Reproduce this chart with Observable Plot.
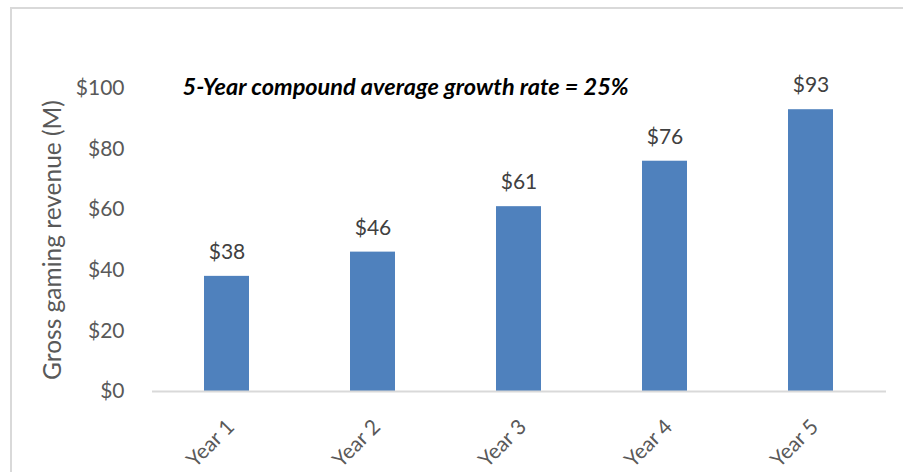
<!DOCTYPE html>
<html>
<head>
<meta charset="utf-8">
<script src="https://cdn.jsdelivr.net/npm/d3@7"></script>
<script src="https://cdn.jsdelivr.net/npm/@observablehq/plot@0.6"></script>
<style>
  html, body { margin: 0; padding: 0; background: #fff; overflow: hidden; }
  #wrap { position: relative; width: 903px; height: 472px; }
  #border { position: absolute; left: 10px; top: 7px; width: 900px; height: 470px;
            border-left: 2px solid #d9d9d9; border-top: 2px solid #d9d9d9; }
  #chart { position: absolute; left: 0; top: 0; }
</style>
</head>
<body>
<div id="wrap"><div id="border"></div><div id="chart"></div></div>
<script>
const categories = ["Year 1", "Year 2", "Year 3", "Year 4", "Year 5"];
const revenue = [38, 46, 61, 76, 93];
const yTicks = [0, 20, 40, 60, 80, 100];
const yLabel = "Gross gaming revenue (M)";
const annotation = "5-Year compound average growth rate = 25%";

const data = categories.map((c, i) => ({year: c, value: revenue[i]}));
const FONT = "Lato, 'Open Sans', sans-serif";

const chart = Plot.plot({
  width: 903,
  height: 472,
  marginLeft: 152,
  marginRight: 17,
  marginTop: 88,
  marginBottom: 81,
  style: {fontFamily: FONT, background: "transparent", overflow: "visible"},
  x: {domain: categories, paddingInner: 0.69, paddingOuter: 0.345, align: 0.5},
  y: {domain: [0, 100]},
  marks: [
    Plot.barY(data, {x: "year", y: "value", fill: "#4f81bd"}),
    Plot.ruleY([0], {stroke: "#d9d9d9", strokeWidth: 2}),
    Plot.text(data, {x: "year", y: "value", text: d => `$${d.value}`, dy: -24,
      lineAnchor: "middle", fill: "#404040", fontSize: 21}),
    Plot.axisY({ticks: yTicks, tickFormat: d => `$${d}`, tickSize: 0, tickPadding: 28,
      fill: "#595959", fontSize: 21, label: null}),
    Plot.text([yLabel], {frameAnchor: "left", text: d => d, rotate: -90, dx: -99,
      lineAnchor: "middle", textAnchor: "middle", fill: "#595959", fontSize: 24.5}),
    Plot.axisX({tickSize: 0, tickRotate: -45, tickPadding: 0, textAnchor: "end", lineAnchor: "top",
      dx: -2, dy: 26, fill: "#595959", fontSize: 21, label: null}),
    Plot.text([annotation], {frameAnchor: "top-left", text: d => d, dx: 30, dy: -1,
      textAnchor: "start", lineAnchor: "middle", fontWeight: "bold", fontStyle: "italic",
      fill: "#000", fontSize: 23.5})
  ]
});
document.getElementById("chart").appendChild(chart);
</script>
</body>
</html>
